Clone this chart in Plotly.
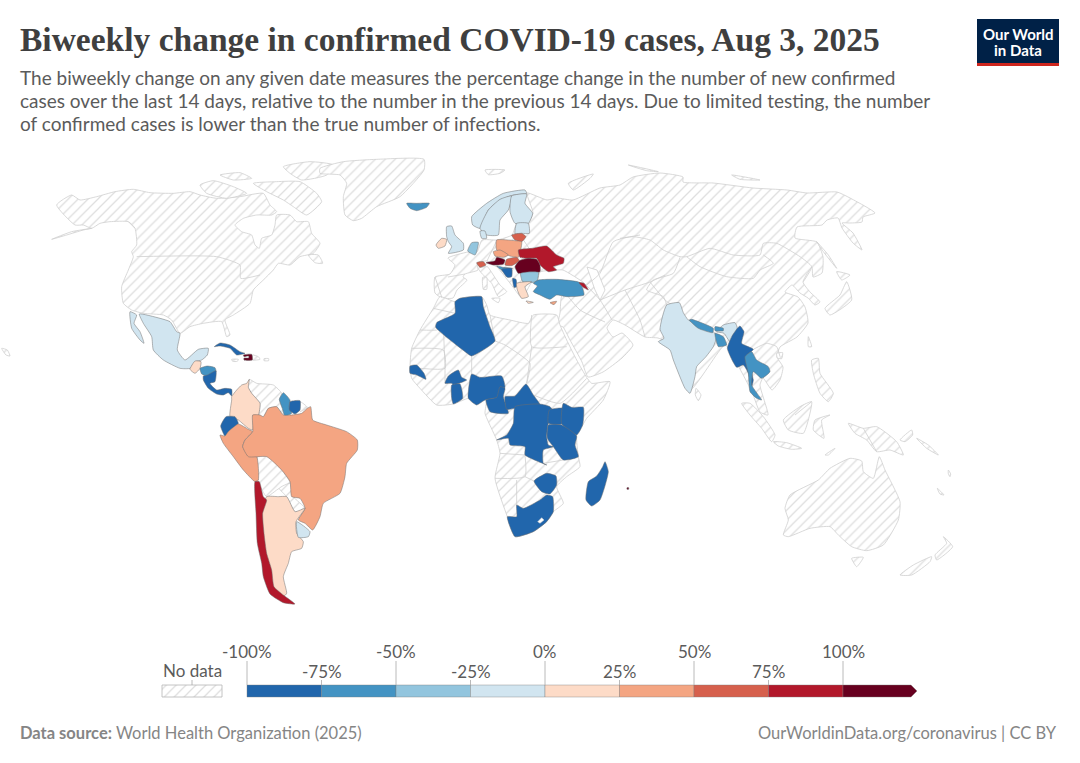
"""
Biweekly change in confirmed COVID-19 cases, Aug 3, 2025.
No world topojson can be fetched here, so the map outlines are traced off the picture.
Outlines are lists of (x, y) read from crops of the picture at 3x, see crop() below.
"""
import plotly.graph_objects as go

TITLE = "Biweekly change in confirmed COVID-19 cases, Aug 3, 2025"
SUBTITLE = [
    "The biweekly change on any given date measures the percentage change in the number of new confirmed",
    "cases over the last 14 days, relative to the number in the previous 14 days. Due to limited testing, the number",
    "of confirmed cases is lower than the true number of infections.",
]
SOURCE_BOLD = "Data source:"
SOURCE = "World Health Organization (2025)"
CREDIT = "OurWorldinData.org/coronavirus | CC BY"

LEGEND_EDGES = [-100, -75, -50, -25, 0, 25, 50, 75, 100]
LEGEND_LABELS = ["-100%", "-75%", "-50%", "-25%", "0%", "25%", "50%", "75%", "100%"]
LEGEND_COLORS = ["#2166ac", "#4393c3", "#92c5de", "#d1e5f0", "#fddbc7",
                 "#f4a582", "#d6604d", "#b2182b", "#67001f"]

# crop origins, the outlines below are in 3x crop pixels
NA = (0, 150)
LATAM = (120, 300)
EUROPE = (400, 170)
AFRICA = (400, 290)
ASIA = (620, 160)
OCEANIA = (720, 400)
PAGE = (0, 0)

# ---- countries with data: name, value, crop, outline
mexico = [(58, 42), (120, 55), (150, 65), (170, 95), (180, 100), (172, 150), (195, 180), (235, 148), (265, 145),
          (262, 165), (245, 180), (225, 185), (210, 205), (180, 205), (130, 180), (100, 150), (95, 110), (70, 70)]
baja = [(30, 35), (50, 45), (42, 70), (60, 95), (72, 130), (60, 120), (35, 85)]
guatemala = [(225, 183), (243, 185), (240, 205), (225, 220), (210, 208)]
honduras = [(240, 205), (262, 198), (285, 203), (288, 215), (262, 228), (245, 222)]
nicaragua_panama = [(250, 228), (262, 225), (288, 212), (285, 245), (270, 250), (290, 270), (315, 265), (335, 268),
                    (335, 288), (325, 278), (310, 285), (290, 282), (265, 265), (250, 240)]
cuba = [(283, 140), (300, 129), (330, 135), (360, 155), (375, 160), (350, 165), (330, 145), (300, 138)]
haiti = [(370, 165), (395, 163), (397, 180), (372, 180), (372, 174), (386, 174), (386, 168), (372, 170)]
colombia = [(388, 238), (380, 250), (365, 255), (350, 270), (335, 290), (335, 300), (330, 350), (355, 360),
            (385, 385), (398, 390), (402, 350), (415, 345), (420, 310), (395, 280), (385, 262)]
guyana = [(478, 298), (490, 278), (510, 300), (508, 320), (515, 340), (495, 348), (487, 325)]
suriname = [(510, 305), (540, 302), (540, 330), (525, 342), (508, 330)]
ecuador = [(318, 350), (345, 350), (355, 370), (325, 395), (315, 408), (302, 378)]
peru = [(300, 405), (315, 408), (325, 395), (355, 372), (385, 388), (398, 395), (375, 420), (368, 440), (385, 465),
        (410, 470), (415, 540), (405, 545), (370, 510), (340, 470), (310, 430)]
brazil = [(398, 345), (420, 345), (430, 350), (445, 325), (470, 320), (490, 345), (515, 345), (545, 340), (562, 325),
          (572, 320), (578, 360), (620, 375), (680, 395), (712, 420), (712, 450), (680, 490), (675, 530), (660, 580),
          (610, 610), (600, 650), (578, 690), (555, 670), (535, 660), (555, 625), (540, 595), (515, 590), (510, 545),
          (485, 510), (440, 470), (385, 470), (368, 440), (375, 420), (398, 395)]
argentina = [(440, 590), (475, 590), (500, 590), (525, 635), (555, 625), (528, 665), (530, 700), (550, 725),
             (545, 745), (515, 755), (505, 790), (490, 830), (500, 880), (490, 890), (460, 860), (435, 790),
             (430, 700), (425, 640)]
chile = [(405, 545), (418, 545), (430, 590), (440, 600), (428, 640), (432, 700), (440, 760), (455, 810), (462, 860),
         (490, 885), (525, 912), (490, 908), (450, 882), (430, 830), (425, 790), (412, 730), (408, 640)]
uruguay = [(530, 665), (570, 695), (565, 710), (535, 712)]

iceland = [(20, 100), (50, 100), (88, 100), (80, 112), (50, 122), (30, 115)]
ireland = [(108, 225), (125, 205), (140, 208), (135, 228), (115, 235)]
britain = [(140, 170), (155, 168), (165, 195), (190, 220), (190, 240), (145, 250), (155, 230), (145, 215), (140, 200)]
netherlands = [(215, 218), (235, 217), (230, 245), (225, 255), (203, 243)]
norway = [(215, 140), (260, 100), (310, 70), (375, 60), (380, 70), (340, 75), (300, 90), (265, 120), (240, 175),
          (218, 165)]
sweden = [(265, 120), (300, 88), (335, 78), (325, 120), (300, 150), (295, 195), (260, 195), (240, 175)]
finland = [(335, 78), (380, 72), (375, 100), (398, 130), (385, 160), (345, 160), (330, 125)]
denmark = [(240, 183), (255, 183), (260, 205), (245, 205)]
baltics = [(350, 160), (385, 160), (388, 190), (365, 190), (345, 192)]
lithuania = [(335, 195), (365, 190), (378, 200), (365, 215), (345, 210)]
poland = [(290, 210), (345, 212), (365, 215), (360, 250), (355, 262), (330, 258), (290, 240)]
czechia = [(280, 245), (300, 240), (325, 255), (310, 262), (285, 258)]
slovakia = [(320, 268), (350, 262), (358, 272), (335, 287), (315, 285)]
austria = [(258, 278), (285, 272), (290, 262), (315, 270), (310, 283), (280, 285)]
switzerland = [(230, 278), (250, 275), (258, 285), (240, 292)]
ukraine = [(355, 240), (395, 235), (440, 228), (470, 255), (492, 265), (490, 280), (460, 290), (470, 300), (445, 305),
           (420, 285), (410, 265), (380, 265), (360, 262)]
romania = [(345, 290), (358, 272), (385, 265), (410, 268), (420, 285), (420, 305), (390, 310), (355, 310)]
bulgaria = [(362, 310), (415, 307), (410, 335), (368, 335)]
croatia = [(290, 288), (310, 292), (338, 295), (322, 300), (305, 300)]
bosnia = [(305, 298), (335, 295), (335, 320), (322, 322)]
albania = [(338, 325), (348, 328), (350, 350), (342, 352)]
greece = [(350, 340), (395, 335), (375, 350), (385, 380), (365, 385), (352, 360)]
crete = [(378, 393), (400, 397), (385, 400)]
cyprus = [(450, 398), (470, 394), (462, 404)]
turkey = [(400, 340), (415, 330), (470, 328), (540, 338), (552, 375), (500, 380), (470, 375), (450, 388), (420, 375),
          (400, 365), (412, 348)]
georgia = [(537, 338), (552, 340), (565, 360), (550, 352)]

algeria = [(165, 35), (180, 25), (245, 20), (250, 50), (270, 110), (285, 153), (215, 198), (195, 185), (107, 112),
           (110, 98), (165, 70)]
senegal = [(30, 228), (50, 225), (72, 250), (78, 268), (50, 255), (30, 250)]
burkina = [(135, 280), (145, 258), (175, 240), (185, 262), (200, 270), (160, 285), (155, 280)]
ghana = [(155, 285), (180, 282), (188, 325), (160, 342), (155, 325)]
nigeria = [(215, 252), (240, 262), (305, 258), (315, 290), (300, 320), (255, 330), (230, 345), (205, 325)]
cameroon = [(300, 290), (315, 295), (310, 320), (325, 370), (270, 365), (258, 330), (290, 322)]
car = [(315, 320), (345, 318), (378, 282), (400, 315), (420, 345), (345, 355), (320, 358)]
drc = [(345, 350), (420, 342), (450, 350), (460, 365), (445, 400), (440, 440), (445, 465), (460, 470), (430, 480),
       (430, 520), (440, 525), (375, 495), (375, 470), (330, 465), (325, 445), (290, 450), (320, 435), (340, 400)]
uganda = [(448, 360), (488, 355), (485, 402), (445, 400)]
kenya = [(490, 340), (515, 352), (550, 352), (548, 405), (530, 435), (485, 402)]
tanzania = [(445, 405), (485, 405), (530, 438), (525, 465), (535, 500), (490, 510), (460, 470), (442, 445)]
zimbabwe = [(402, 573), (440, 550), (468, 558), (470, 585), (450, 612), (425, 605)]
south_africa = [(350, 645), (370, 655), (420, 630), (440, 615), (458, 620), (460, 665), (440, 695), (400, 725),
                (345, 740), (322, 680), (350, 680)]
lesotho = [(413, 695), (425, 683), (432, 690), (420, 700)]
madagascar = [(615, 515), (625, 545), (600, 630), (575, 648), (558, 630), (565, 575), (590, 558), (608, 530)]
mauritius = [(681, 593), (686, 593), (686, 598), (681, 598)]

india = [(140, 435), (178, 428), (190, 458), (205, 480), (280, 515), (290, 530), (280, 560), (258, 590), (230, 620),
         (225, 650), (210, 700), (195, 685), (160, 600), (150, 570), (115, 545), (132, 535), (120, 508)]
india_east = [(310, 495), (345, 488), (352, 505), (330, 545), (312, 520), (290, 515)]
nepal = [(208, 480), (215, 478), (280, 505), (278, 518), (235, 505)]
bhutan = [(285, 500), (310, 505), (310, 512), (285, 512)]
bangladesh = [(285, 520), (310, 530), (320, 555), (295, 560)]
myanmar = [(352, 505), (360, 498), (372, 515), (365, 550), (400, 568), (378, 590), (385, 610), (400, 660), (395, 680),
           (385, 640), (370, 615), (350, 622), (322, 565), (335, 530)]
thailand = [(375, 590), (395, 575), (410, 600), (445, 620), (450, 635), (425, 655), (400, 635), (395, 675), (425, 720),
            (410, 715), (390, 695), (385, 640)]

COUNTRIES = [
    ("Mexico", -10, LATAM, [mexico, baja]), ("Guatemala", 10, LATAM, [guatemala]),
    ("Honduras", -60, LATAM, [honduras]), ("Nicaragua", -85, LATAM, [nicaragua_panama]),
    ("Cuba", -85, LATAM, [cuba]), ("Haiti", 110, LATAM, [haiti]), ("Colombia", 10, LATAM, [colombia]),
    ("Guyana", -60, LATAM, [guyana]), ("Suriname", -85, LATAM, [suriname]), ("Ecuador", -85, LATAM, [ecuador]),
    ("Peru", 40, LATAM, [peru]), ("Brazil", 40, LATAM, [brazil]), ("Argentina", 10, LATAM, [argentina]),
    ("Chile", 90, LATAM, [chile]), ("Uruguay", -10, LATAM, [uruguay]),
    ("Iceland", -60, EUROPE, [iceland]), ("Ireland", 10, EUROPE, [ireland]), ("United Kingdom", -10, EUROPE, [britain]),
    ("Netherlands", -30, EUROPE, [netherlands]), ("Norway", -10, EUROPE, [norway]), ("Sweden", -10, EUROPE, [sweden]),
    ("Finland", -10, EUROPE, [finland]), ("Denmark", -10, EUROPE, [denmark]), ("Estonia", -10, EUROPE, [baltics]),
    ("Lithuania", 60, EUROPE, [lithuania]), ("Poland", 40, EUROPE, [poland]), ("Czechia", 40, EUROPE, [czechia]),
    ("Slovakia", 60, EUROPE, [slovakia]), ("Austria", 110, EUROPE, [austria]), ("Switzerland", 60, EUROPE, [switzerland]),
    ("Ukraine", 90, EUROPE, [ukraine]), ("Romania", 110, EUROPE, [romania]), ("Bulgaria", -30, EUROPE, [bulgaria]),
    ("Croatia", -60, EUROPE, [croatia]), ("Bosnia", -85, EUROPE, [bosnia]), ("Albania", -85, EUROPE, [albania]),
    ("Greece", 10, EUROPE, [greece, crete]), ("Cyprus", 40, EUROPE, [cyprus]), ("Turkey", -60, EUROPE, [turkey]),
    ("Georgia", 90, EUROPE, [georgia]),
    ("Algeria", -85, AFRICA, [algeria]), ("Senegal", -85, AFRICA, [senegal]), ("Burkina Faso", -85, AFRICA, [burkina]),
    ("Ghana", -85, AFRICA, [ghana]), ("Nigeria", -85, AFRICA, [nigeria]), ("Cameroon", -85, AFRICA, [cameroon]),
    ("Central African Republic", -85, AFRICA, [car]), ("DR Congo", -85, AFRICA, [drc]), ("Uganda", -85, AFRICA, [uganda]),
    ("Kenya", -85, AFRICA, [kenya]), ("Tanzania", -85, AFRICA, [tanzania]), ("Zimbabwe", -85, AFRICA, [zimbabwe]),
    ("South Africa", -85, AFRICA, [south_africa]), ("Madagascar", -85, AFRICA, [madagascar]),
    ("Mauritius", 110, AFRICA, [mauritius]),
    ("India", -10, ASIA, [india, india_east]), ("Nepal", -60, ASIA, [nepal]), ("Bhutan", -60, ASIA, [bhutan]),
    ("Bangladesh", -60, ASIA, [bangladesh]), ("Myanmar", -85, ASIA, [myanmar]), ("Thailand", -60, ASIA, [thailand]),
]

# ---- land without data, each entry: crop, outline
eurasia = [(527, 193), (547, 200), (557, 198), (573, 200), (600, 188), (620, 185), (633, 177), (660, 173), (683, 177),
           (683, 182), (713, 183), (753, 188), (787, 190), (807, 193), (837, 192), (850, 198), (875, 213), (863, 217),
           (862, 222), (850, 223), (842, 223), (853, 233), (862, 250), (853, 243), (842, 228), (838, 218), (827, 220),
           (822, 225), (797, 227), (795, 238), (817, 242), (823, 257), (822, 273), (813, 277), (812, 267), (803, 282),
           (810, 292), (820, 302), (815, 305), (808, 298), (800, 293), (792, 285), (785, 292), (798, 297), (805, 307),
           (808, 323), (797, 337), (780, 347), (777, 357), (783, 367), (780, 380), (772, 390), (763, 378), (760, 385),
           (768, 415), (760, 412), (752, 392), (735, 360), (725, 345), (690, 390), (672, 345), (658, 338), (645, 337),
           (625, 325), (613, 320), (607, 328), (613, 337), (622, 333), (633, 345), (622, 358), (603, 372), (588, 377),
           (582, 362), (570, 340), (563, 327), (558, 325), (560, 313), (562, 295), (580, 283), (584, 283), (563, 270),
           (557, 270), (540, 272), (537, 282), (532, 282), (522, 298), (513, 287), (497, 267), (493, 265), (487, 261),
           (477, 263), (478, 270), (465, 274), (463, 277), (467, 280), (457, 290), (453, 298), (442, 298), (435, 293),
           (435, 277), (450, 274), (455, 265), (448, 258), (468, 252), (477, 252), (482, 240), (497, 240), (512, 235),
           (517, 223), (528, 223), (533, 213)]
caspian = [(587, 267), (597, 270), (605, 290), (600, 300), (595, 290)]
africa = [(120, 20), (165, 35), (180, 25), (245, 20), (260, 45), (270, 75), (330, 90), (385, 100), (400, 75), (470, 75),
          (480, 105), (500, 150), (530, 210), (560, 262), (575, 280), (630, 275), (610, 330), (560, 385), (548, 405),
          (530, 435), (535, 500), (540, 530), (500, 560), (470, 590), (490, 640), (460, 665), (440, 695), (400, 725),
          (345, 740), (322, 680), (285, 565), (300, 490), (290, 450), (265, 395), (255, 370), (258, 330), (205, 325),
          (160, 342), (110, 345), (60, 295), (35, 265), (30, 228), (35, 175), (60, 120), (100, 55)]
north_america = [(225, 225), (170, 165), (215, 135), (240, 150), (290, 140), (345, 125), (400, 118), (450, 128),
                 (520, 130), (570, 125), (600, 135), (650, 145), (720, 140), (790, 130), (810, 165), (830, 185),
                 (815, 195), (770, 195), (730, 205), (705, 225), (725, 245), (755, 255), (765, 285), (778, 295),
                 (785, 265), (815, 255), (825, 225), (830, 195), (870, 195), (890, 215), (925, 215), (935, 250),
                 (960, 280), (940, 310), (900, 320), (870, 345), (835, 340), (820, 360), (790, 390),
                 (760, 420), (750, 460), (700, 495), (675, 510), (690, 555), (680, 560), (665, 515), (610, 520),
                 (570, 530), (540, 550), (515, 510), (490, 495), (430, 490), (395, 480), (370, 460), (365, 410),
                 (385, 360), (400, 320), (395, 305), (410, 285), (405, 235), (385, 215), (330, 215), (300, 220),
                 (275, 235), (250, 225)]
alaska_peninsula = [(155, 268), (215, 245), (275, 235), (250, 240), (200, 255)]
newfoundland = [(925, 315), (955, 315), (968, 340), (945, 338)]
arctic_1 = [(600, 105), (640, 92), (700, 110), (740, 130), (680, 145), (620, 130)]
arctic_2 = [(660, 75), (720, 68), (755, 85), (700, 90)]
arctic_3 = [(760, 100), (830, 95), (900, 95), (950, 130), (965, 155), (920, 195), (880, 170), (850, 150), (800, 125)]
arctic_4 = [(850, 50), (930, 35), (1000, 45), (980, 75), (905, 90), (870, 70)]
greenland = [(960, 55), (1030, 35), (1130, 28), (1272, 28), (1272, 60), (1200, 140), (1130, 170), (1085, 205),
             (1060, 212), (1035, 195), (1030, 140), (1040, 100), (1020, 75), (960, 70)]
venezuela = [(388, 238), (410, 250), (460, 255), (485, 280), (478, 298), (487, 325), (490, 345), (470, 320), (445, 325),
             (430, 350), (418, 345), (420, 310), (395, 280), (385, 262)]
french_guiana = [(540, 305), (562, 322), (540, 335)]
bolivia = [(413, 470), (440, 465), (485, 510), (510, 545), (515, 560), (478, 565), (440, 590), (415, 545)]
paraguay = [(478, 565), (510, 550), (520, 590), (555, 625), (525, 635), (500, 590)]
dominican = [(397, 165), (415, 170), (420, 178), (398, 180)]
jamaica = [(335, 178), (355, 178), (352, 184), (338, 184)]
puerto_rico = [(432, 176), (446, 176), (446, 182), (432, 182)]
italy = [(235, 295), (262, 290), (270, 300), (300, 345), (320, 365), (295, 380), (275, 340), (245, 310)]
sicily = [(275, 385), (300, 385), (295, 398)]
sardinia = [(248, 322), (260, 322), (260, 358), (250, 358)]
novaya = [(505, 40), (580, 12), (570, 25), (520, 60)]
svalbard = [(255, 0), (315, 0), (300, 10), (265, 14)]
franz_josef = [(25, 15), (115, 35), (80, 32)]
new_siberian = [(335, 45), (420, 60), (360, 58)]
sakhalin = [(590, 245), (610, 275), (650, 325), (625, 285)]
hokkaido = [(650, 335), (690, 345), (665, 360)]
japan = [(615, 445), (660, 405), (680, 365), (695, 420), (630, 465)]
taiwan = [(565, 530), (575, 560), (565, 560)]
hainan = [(470, 580), (488, 578), (485, 596), (472, 594)]
sri_lanka = [(228, 685), (243, 705), (235, 722), (226, 705)]
philippines = [(575, 600), (595, 595), (600, 640), (640, 700), (625, 725), (600, 700), (580, 640)]
sumatra = [(65, 10), (90, 10), (130, 50), (165, 105), (155, 125), (125, 85), (90, 45)]
java = [(160, 125), (200, 128), (245, 145), (215, 148), (175, 138)]
timor = [(315, 165), (345, 145), (325, 165)]
borneo = [(190, 60), (240, 20), (275, 5), (265, 60), (250, 100), (205, 90)]
sulawesi = [(285, 60), (330, 45), (305, 60), (312, 115), (280, 90)]
new_guinea = [(385, 70), (430, 85), (470, 80), (530, 125), (550, 165), (510, 150), (470, 155), (440, 120), (405, 100)]
new_britain = [(540, 120), (575, 90), (578, 105), (555, 125)]
solomons = [(590, 115), (625, 135), (655, 165), (620, 145)]
vanuatu = [(685, 210), (692, 222), (690, 230), (685, 222)]
australia = [(190, 405), (205, 360), (195, 325), (210, 285), (295, 240), (330, 205), (390, 175), (425, 183), (430, 215),
             (460, 235), (478, 170), (495, 210), (540, 305), (535, 360), (490, 435), (440, 452), (395, 440), (355, 405),
             (330, 380), (270, 385), (205, 410)]
tasmania = [(395, 475), (430, 472), (410, 500)]
nz_south = [(540, 525), (580, 495), (635, 470), (630, 485), (575, 525)]
nz_north = [(670, 410), (698, 440), (650, 480), (645, 465), (680, 430)]
new_caledonia = [(652, 265), (672, 285), (660, 282)]
hawaii = [(5, 595), (22, 600), (30, 618), (18, 615)]

NO_DATA = [
    (PAGE, eurasia), (AFRICA, africa), (NA, north_america), (NA, alaska_peninsula), (NA, newfoundland), (NA, arctic_1),
    (NA, arctic_2), (NA, arctic_3), (NA, arctic_4), (NA, greenland), (NA, hawaii), (LATAM, venezuela),
    (LATAM, french_guiana), (LATAM, bolivia), (LATAM, paraguay), (LATAM, dominican), (LATAM, jamaica),
    (LATAM, puerto_rico), (EUROPE, italy), (EUROPE, sicily), (EUROPE, sardinia), (EUROPE, novaya), (EUROPE, svalbard),
    (ASIA, franz_josef), (ASIA, new_siberian), (ASIA, sakhalin), (ASIA, hokkaido), (ASIA, japan), (ASIA, taiwan),
    (ASIA, hainan), (ASIA, sri_lanka), (ASIA, philippines), (OCEANIA, sumatra), (OCEANIA, java), (OCEANIA, timor),
    (OCEANIA, borneo), (OCEANIA, sulawesi), (OCEANIA, new_guinea), (OCEANIA, new_britain), (OCEANIA, solomons),
    (OCEANIA, vanuatu), (OCEANIA, australia), (OCEANIA, tasmania), (OCEANIA, nz_south), (OCEANIA, nz_north),
    (OCEANIA, new_caledonia),
]

# borders inside the land without data
BORDERS = [
    (NA, [(410, 320), (650, 320), (720, 345), (722, 385), (780, 375)]),
    (NA, [(405, 235), (385, 215)]),
    (AFRICA, [(100, 55), (165, 70)]), (AFRICA, [(60, 120), (110, 120), (130, 110)]),
    (AFRICA, [(35, 175), (130, 180), (135, 235), (60, 235)]), (AFRICA, [(130, 110), (135, 235), (135, 280)]),
    (AFRICA, [(285, 153), (315, 165), (390, 220), (380, 280)]), (AFRICA, [(270, 75), (285, 153)]),
    (AFRICA, [(395, 75), (395, 170), (500, 170)]), (AFRICA, [(395, 170), (380, 280)]),
    (AFRICA, [(215, 198), (215, 252)]), (AFRICA, [(400, 315), (480, 340), (560, 265)]),
    (AFRICA, [(300, 490), (375, 495)]), (AFRICA, [(375, 495), (375, 560), (285, 565)]),
    (AFRICA, [(375, 560), (402, 573)]), (AFRICA, [(350, 570), (350, 645)]), (AFRICA, [(430, 520), (490, 510)]),
    (PAGE, [(563, 290), (580, 310), (605, 322)]), (PAGE, [(584, 283), (600, 300), (612, 320)]),
    (PAGE, [(600, 300), (625, 290), (650, 282), (665, 275)]), (PAGE, [(625, 290), (640, 320), (645, 337)]),
    (PAGE, [(650, 282), (665, 300), (672, 305)]), (PAGE, [(540, 272), (530, 250), (520, 235)]),
    (PAGE, [(497, 240), (487, 261)]), (PAGE, [(435, 277), (442, 298)]), (PAGE, [(448, 277), (465, 274)]),
    (ASIA, [(0, 235), (40, 230), (90, 240), (130, 270), (180, 290), (200, 290), (270, 265), (340, 285), (420, 285),
            (430, 250), (470, 250), (540, 290), (575, 320), (550, 365)]),
    (ASIA, [(200, 290), (240, 320), (320, 350), (400, 355), (420, 330), (460, 310), (430, 285)]),
    (ASIA, [(180, 292), (160, 340), (100, 360), (80, 390), (130, 410), (140, 435)]),
    (ASIA, [(400, 568), (440, 550), (470, 560), (480, 590)]), (ASIA, [(425, 610), (430, 655)]),
    (EUROPE, [(560, 345), (600, 310), (640, 215), (720, 195)]),
    (OCEANIA, [(430, 85), (470, 155)]), (OCEANIA, [(225, 45), (275, 5)]),
]


def crop(origin, points):
    """Turn crop pixels into page pixels. The PAGE outlines are page pixels already."""
    if origin == PAGE:
        return points
    return [(origin[0] + x / 3, origin[1] + y / 3) for x, y in points]


def bin_color(value):
    for i in range(1, len(LEGEND_EDGES)):
        if value < LEGEND_EDGES[i]:
            return LEGEND_COLORS[i - 1]
    return LEGEND_COLORS[-1]


def legend_x(value):
    return 247 + (value + 100) * (843 - 247) / 200


def closed(points):
    return [p[0] for p in points] + [points[0][0]], [p[1] for p in points] + [points[0][1]]


HATCH = dict(shape="/", fgcolor="#bdbdbd", bgcolor="white", size=7, solidity=0.18)
TEXT_GREY = "#5b5b5b"
SMOOTH = dict(shape="spline", smoothing=0.5)

fig = go.Figure()

# no data land first, everything else goes over it
for origin, outline in NO_DATA:
    xs, ys = closed(crop(origin, outline))
    fig.add_trace(go.Scatter(x=xs, y=ys, mode="lines", fill="toself", fillpattern=HATCH,
                             line=dict(color="#cfcfcf", width=0.8, **SMOOTH), name="No data", hoverinfo="skip"))

xs, ys = closed(crop(PAGE, caspian))
fig.add_trace(go.Scatter(x=xs, y=ys, mode="lines", fill="toself", fillcolor="white",
                         line=dict(color="#cfcfcf", width=0.8), hoverinfo="skip"))

for origin, border in BORDERS:
    points = crop(origin, border)
    fig.add_trace(go.Scatter(x=[p[0] for p in points], y=[p[1] for p in points], mode="lines",
                             line=dict(color="#cfcfcf", width=0.8, **SMOOTH), hoverinfo="skip"))

for name, value, origin, outlines in COUNTRIES:
    xs, ys = [], []
    for outline in outlines:
        x, y = closed(crop(origin, outline))
        xs += x + [None]
        ys += y + [None]
    fig.add_trace(go.Scatter(x=xs, y=ys, mode="lines", fill="toself", fillcolor=bin_color(value),
                             line=dict(color="#6e6e6e", width=0.5, **SMOOTH), name=name,
                             hovertext=f"{name}: {value}%", hoverinfo="text"))

# Lesotho is a hole in South Africa
xs, ys = closed(crop(AFRICA, lesotho))
fig.add_trace(go.Scatter(x=xs, y=ys, mode="lines", fill="toself", fillcolor="white",
                         line=dict(color="#cfcfcf", width=0.5), hoverinfo="skip"))

# legend
shapes = []
for i, color in enumerate(LEGEND_COLORS):
    left = legend_x(LEGEND_EDGES[i])
    if i < len(LEGEND_COLORS) - 1:
        right = legend_x(LEGEND_EDGES[i + 1])
        shapes.append(dict(type="rect", x0=left, x1=right, y0=685, y1=697, fillcolor=color,
                           line=dict(color="#7a7a7a", width=0.4)))
    else:
        shapes.append(dict(type="path", path=f"M{left},685 L911,685 L917,691 L911,697 L{left},697 Z",
                           fillcolor=color, line=dict(color="#7a7a7a", width=0.4)))

annotations = []
for i, (edge, label) in enumerate(zip(LEGEND_EDGES, LEGEND_LABELS)):
    top_row = i % 2 == 0
    shapes.append(dict(type="line", x0=legend_x(edge), x1=legend_x(edge), y0=661 if top_row else 680, y1=685,
                       line=dict(color="#a8a8a8", width=0.8)))
    annotations.append(dict(x=legend_x(edge), y=651 if top_row else 671, text=label, showarrow=False,
                            xanchor="center", yanchor="middle", font=dict(size=17, color=TEXT_GREY, family="Lato")))

fig.add_trace(go.Scatter(x=[162, 222, 222, 162, 162], y=[685, 685, 697, 697, 685], mode="lines", fill="toself",
                         fillpattern=HATCH, line=dict(color="#b5b5b5", width=0.8), hoverinfo="skip"))
shapes.append(dict(type="line", x0=192, x1=192, y0=680, y1=685, line=dict(color="#a8a8a8", width=0.8)))
annotations.append(dict(x=192, y=670, text="No data", showarrow=False, xanchor="center", yanchor="middle",
                        font=dict(size=17, color=TEXT_GREY, family="Lato")))

# logo
shapes.append(dict(type="rect", x0=977, x1=1059, y0=19, y1=63, fillcolor="#002147", line=dict(width=0)))
shapes.append(dict(type="rect", x0=977, x1=1059, y0=63, y1=66, fillcolor="#ce261e", line=dict(width=0)))
annotations.append(dict(x=1018, y=34, text="Our World", showarrow=False, xanchor="center", yanchor="middle",
                        font=dict(size=15, color="white", family="Lato", weight=700)))
annotations.append(dict(x=1018, y=50, text="in Data", showarrow=False, xanchor="center", yanchor="middle",
                        font=dict(size=15, color="white", family="Lato", weight=700)))

# title block and footer, x is 2px short of the text because of the annotation padding
annotations.append(dict(x=18, y=39, text=TITLE, showarrow=False, xanchor="left", yanchor="middle",
                        font=dict(size=33.5, color="#3f3f3f", family="Liberation Serif", weight=700)))
for i, line in enumerate(SUBTITLE):
    annotations.append(dict(x=18, y=[77, 100, 123][i], text=line, showarrow=False, xanchor="left", yanchor="middle",
                            font=dict(size=19, color=TEXT_GREY, family="Lato")))
annotations.append(dict(x=18, y=733, text=f"<b>{SOURCE_BOLD}</b> {SOURCE}", showarrow=False, xanchor="left",
                        yanchor="middle", font=dict(size=16.5, color="#858585", family="Lato")))
annotations.append(dict(x=1059, y=733, text=CREDIT, showarrow=False, xanchor="right", yanchor="middle",
                        font=dict(size=16.5, color="#858585", family="Lato")))

fig.update_layout(
    width=1080, height=763, margin=dict(l=0, r=0, t=0, b=0), showlegend=False,
    paper_bgcolor="white", plot_bgcolor="white", shapes=shapes, annotations=annotations,
    xaxis=dict(range=[0, 1080], visible=False, fixedrange=True),
    yaxis=dict(range=[763, 0], visible=False, fixedrange=True),
)

# the page body has a default margin that would push the figure off by 8px
fig.write_html("out.html", config={"displayModeBar": False}, post_script="document.body.style.margin = '0';")
